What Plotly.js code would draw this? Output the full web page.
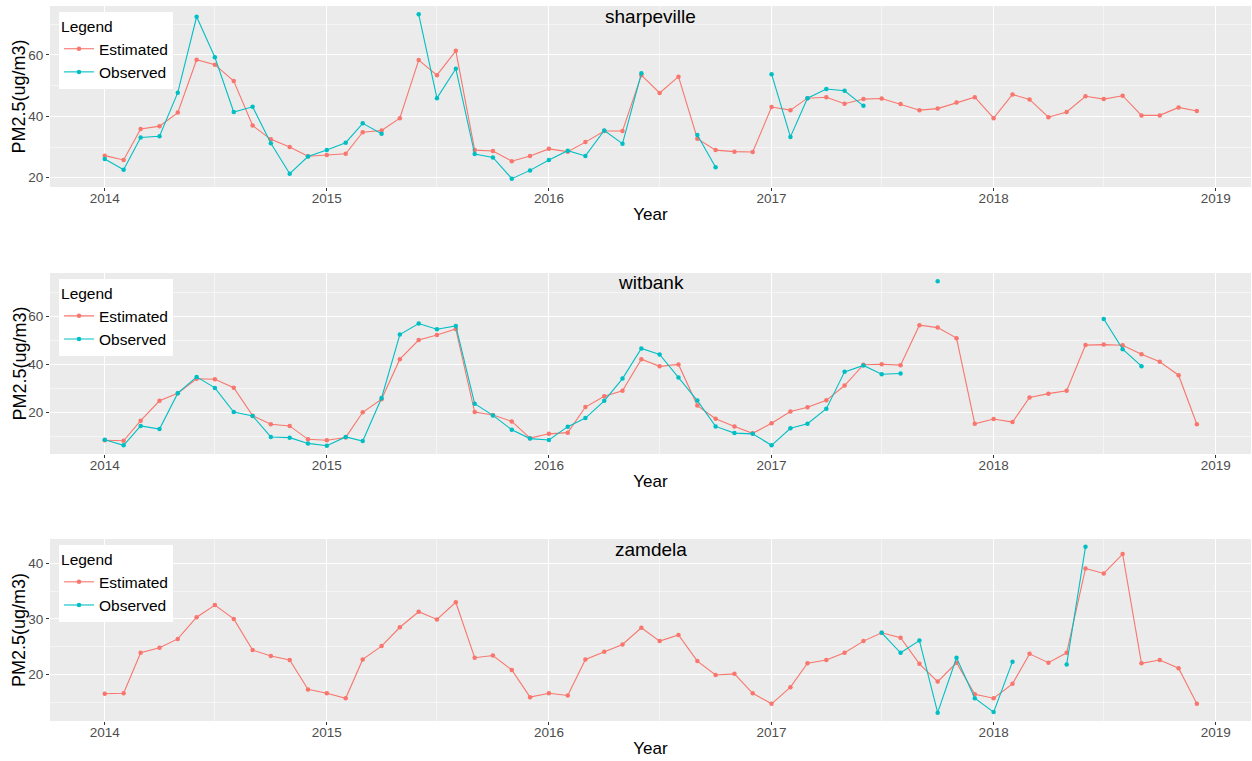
<!DOCTYPE html>
<html>
<head>
<meta charset="utf-8">
<script src="https://cdn.plot.ly/plotly-3.0.1.min.js"></script>
<style>
  html, body { margin: 0; padding: 0; background: #ffffff; }
  #chart { width: 1252px; height: 761px; }
</style>
</head>
<body>
<div id="chart"></div>
<script>
// Monthly PM2.5 (ug/m3), January 2014 to December 2018
const sites = ['sharpeville', 'witbank', 'zamdela'];
const seriesNames = ['Estimated', 'Observed'];
const xTickYears = ['2014', '2015', '2016', '2017', '2018', '2019'];
const yTitle = 'PM2.5(ug/m3)';
const xTitle = 'Year';

const sharpevilleEstimated = [
  27.2, 25.8, 35.9, 36.8, 41.2, 58.4, 56.8, 51.5, 37.0, 32.5, 30.0, 27.0,
  27.4, 27.8, 34.8, 35.4, 39.4, 58.3, 53.4, 61.3, 29.0, 28.7, 25.4, 27.1,
  29.4, 28.5, 31.6, 35.2, 35.2, 53.4, 47.6, 52.9, 32.7, 29.0, 28.5, 28.4,
  43.0, 42.0, 45.9, 46.2, 44.1, 45.6, 45.8, 44.0, 42.0, 42.5, 44.5, 46.2,
  39.4, 47.1, 45.5, 39.7, 41.4, 46.5, 45.6, 46.7, 40.3, 40.3, 42.9, 41.7
];
const sharpevilleObserved = [
  26.1, 22.6, 33.1, 33.5, 47.7, 72.4, 59.2, 41.4, 43.1, 31.2, 21.3, 26.9,
  29.0, 31.4, 37.7, 34.3, null, 73.2, 45.9, 55.5, 27.7, 26.6, 19.7, 22.4,
  25.8, 28.8, 27.1, 35.4, 31.1, 54.0, null, null, 33.9, 23.4, null, null,
  53.7, 33.3, 45.9, 48.9, 48.3, 43.4, null, null, null, null, null, null,
  null, null, null, null, null, null, null, null, null, null, null, null
];

const witbankEstimated = [
  8.3, 8.1, 16.5, 24.8, 28.0, 34.0, 33.8, 30.3, 18.6, 15.0, 14.3, 8.7,
  8.3, 9.5, 20.0, 25.5, 42.2, 50.2, 52.3, 54.8, 20.1, 18.9, 16.2, 9.2,
  11.0, 11.5, 22.2, 26.7, 29.0, 42.2, 39.2, 40.0, 22.8, 17.3, 14.1, 11.2,
  15.4, 20.3, 22.1, 25.0, 31.2, 39.9, 40.1, 39.7, 56.4, 55.4, 51.0, 15.2,
  17.2, 15.9, 26.2, 27.8, 29.0, 48.1, 48.3, 48.0, 44.3, 41.1, 35.5, 15.0
];
const witbankObserved = [
  8.5, 6.2, 14.3, 13.0, 28.0, 34.8, 30.2, 20.1, 18.5, 9.7, 9.4, 7.0,
  6.0, 9.7, 8.0, 26.0, 52.5, 57.1, 54.7, 56.1, 23.6, 18.7, 12.7, 9.0,
  8.4, 14.0, 17.6, 24.8, 34.1, 46.7, 44.2, 34.5, 24.9, 14.1, 11.3, 11.0,
  6.2, 13.3, 15.2, 21.5, 36.9, 39.6, 35.9, 36.2, null, 74.8, null, null,
  null, null, null, null, null, null, 59.0, 46.4, 39.3, null, null, null
];

const zamdelaEstimated = [
  16.5, 16.6, 23.9, 24.8, 26.4, 30.3, 32.5, 30.0, 24.4, 23.3, 22.6, 17.3,
  16.6, 15.7, 22.7, 25.1, 28.5, 31.3, 29.9, 33.0, 23.0, 23.4, 20.8, 15.9,
  16.6, 16.2, 22.7, 24.1, 25.4, 28.4, 26.0, 27.1, 22.4, 19.9, 20.1, 16.6,
  14.7, 17.7, 22.0, 22.6, 23.9, 26.0, 27.5, 26.6, 21.9, 18.7, 22.1, 16.4,
  15.7, 18.3, 23.7, 22.1, 23.9, 39.1, 38.2, 41.7, 22.0, 22.6, 21.1, 14.7
];
const zamdelaObserved = [
  null, null, null, null, null, null, null, null, null, null, null, null,
  null, null, null, null, null, null, null, null, null, null, null, null,
  null, null, null, null, null, null, null, null, null, null, null, null,
  null, null, null, null, null, null, 27.5, 23.9, 26.1, 13.1, 23.0, 15.7,
  13.2, 22.3, null, null, 21.8, 43.0, null, null, null, null, null, null
];

// First day of each month in the series
const months = [];
for (let y = 2014; y <= 2018; y++) {
  for (let m = 1; m <= 12; m++) {
    months.push(y + '-' + String(m).padStart(2, '0') + '-01');
  }
}

const siteSeries = [
  [sharpevilleEstimated, sharpevilleObserved],
  [witbankEstimated, witbankObserved],
  [zamdelaEstimated, zamdelaObserved]
];

const colors = ['#F8766D', '#00BFC4'];
const FONT = 'Liberation Sans, Arial, sans-serif';

// Panel extents in paper units (plot area spans y = 6..721 px)
const domains = [[0.7469, 1.0], [0.3734, 0.6266], [0.0, 0.2545]];
const yRanges = [[17.0, 75.9], [2.56, 78.24], [11.6, 44.4]];
const yMajor = [20, 20, 10];
const yTick0 = [20, 20, 20];
const legendTops = [0.9916, 0.618, 0.246];

const traces = [];
siteSeries.forEach((pair, p) => {
  const ax = p === 0 ? '' : String(p + 1);
  pair.forEach((vals, s) => {
    traces.push({
      type: 'scatter',
      mode: 'lines+markers',
      x: months,
      y: vals,
      name: seriesNames[s],
      xaxis: 'x' + ax,
      yaxis: 'y' + ax,
      legend: p === 0 ? 'legend' : 'legend' + (p + 1),
      connectgaps: false,
      line: { color: colors[s], width: 1.1 },
      marker: { color: colors[s], size: 4.5 },
      hoverinfo: 'x+y+name'
    });
  });
});

const layout = {
  width: 1252,
  height: 761,
  paper_bgcolor: '#ffffff',
  plot_bgcolor: '#EBEBEB',
  font: { family: FONT, color: '#000000' },
  margin: { l: 50, r: 1, t: 6, b: 40 },
  annotations: [],
  showlegend: true
};

sites.forEach((site, p) => {
  const ax = p === 0 ? '' : String(p + 1);
  layout['xaxis' + ax] = {
    type: 'date',
    anchor: 'y' + ax,
    range: ['2013-10-03', '2019-02-28'],
    tickmode: 'array',
    tickvals: xTickYears.map(y => y + '-01-01'),
    ticktext: xTickYears,
    ticks: 'outside',
    ticklen: 3,
    tickwidth: 1,
    tickcolor: '#333333',
    ticklabelstandoff: -4,
    tickfont: { family: FONT, size: 13.5, color: '#4D4D4D' },
    showgrid: true,
    gridcolor: '#ffffff',
    gridwidth: 1.1,
    minor: { dtick: 'M6', tick0: '2013-07-01', showgrid: true, gridcolor: '#ffffff', gridwidth: 0.5, ticks: '' },
    zeroline: false,
    showline: false,
    fixedrange: true,
    title: { text: xTitle, font: { family: FONT, size: 17, color: '#000000' }, standoff: 2 }
  };
  layout['yaxis' + ax] = {
    anchor: 'x' + ax,
    domain: domains[p],
    range: yRanges[p],
    tick0: yTick0[p],
    dtick: yMajor[p],
    ticks: 'outside',
    ticklen: 3,
    tickwidth: 1,
    tickcolor: '#333333',
    tickfont: { family: FONT, size: 13.5, color: '#4D4D4D' },
    showgrid: true,
    gridcolor: '#ffffff',
    gridwidth: 1.1,
    minor: { dtick: yMajor[p] / 2, tick0: yTick0[p] + yMajor[p] / 2, showgrid: true, gridcolor: '#ffffff', gridwidth: 0.5, ticks: '' },
    zeroline: false,
    showline: false,
    fixedrange: true
  };
  layout[p === 0 ? 'legend' : 'legend' + (p + 1)] = {
    x: 0.0075,
    xanchor: 'left',
    y: legendTops[p],
    yanchor: 'top',
    xref: 'paper',
    yref: 'paper',
    bgcolor: '#ffffff',
    borderwidth: 0,
    tracegroupgap: 0,
    itemwidth: 30,
    font: { family: FONT, size: 15.5, color: '#000000' },
    title: { text: 'Legend', font: { family: FONT, size: 15.5, color: '#000000' } }
  };
  // panel title, centred near the top of each panel
  layout.annotations.push({
    text: site,
    xref: 'x' + ax + ' domain',
    yref: 'y' + ax + ' domain',
    x: 0.5,
    y: 1,
    xanchor: 'center',
    yanchor: 'middle',
    yshift: -10,
    showarrow: false,
    font: { family: FONT, size: 19, color: '#000000' }
  });
  // rotated y-axis title, placed left of the tick labels
  layout.annotations.push({
    text: yTitle,
    xref: 'paper',
    yref: 'y' + ax + ' domain',
    x: 0,
    y: 0.5,
    xanchor: 'center',
    yanchor: 'middle',
    xshift: -31,
    textangle: -90,
    showarrow: false,
    font: { family: FONT, size: 18, color: '#000000' }
  });
});

Plotly.newPlot('chart', traces, layout, { displayModeBar: false, staticPlot: true });
</script>
</body>
</html>
